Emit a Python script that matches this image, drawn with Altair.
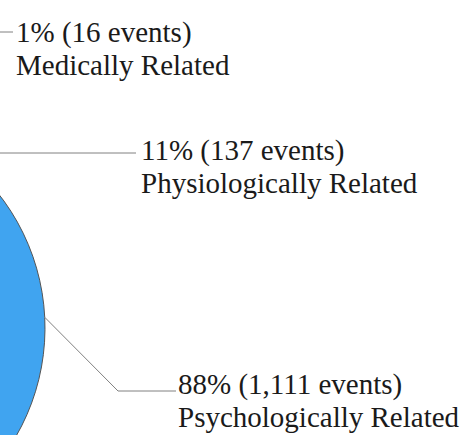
import math
import altair as alt
import pandas as pd

# Event categories and counts
categories = ["Psychologically Related", "Physiologically Related", "Medically Related"]
percents = [88, 11, 1]
events = ["1,111", "137", "16"]
counts = [1111, 137, 16]
colors = ["#40A4F0", "#F08C3C", "#A5A5A5"]

# Pie geometry (pixels) and label layout
W, H = 465, 435
CX, CY, R = -172, 328, 217
START = -1.24  # radians, clockwise from 12 o'clock

label_x = [178, 141, 16]
label_y = [394, 160, 42]
# leader lines: elbow / end points (the first one starts on the pie edge)
leader_pts = {
    "Psychologically Related": [(118, 391), (176, 391)],
    "Physiologically Related": [(-40, 153), (136, 153)],
    "Medically Related": [(-40, 32), (13, 32)],
}

total = sum(counts)
pie_df = pd.DataFrame({"category": categories, "count": counts,
                       "rank": list(range(len(categories)))})

# leader lines start at each slice's mid-angle on the rim
rows = []
cum = 0
for cat, c in zip(categories, counts):
    mid = START + (cum + c / 2) / total * 2 * math.pi
    cum += c
    sx, sy = CX + R * math.sin(mid), CY - R * math.cos(mid)
    pts = [(sx, sy)] + leader_pts[cat]
    for i, (px, py) in enumerate(pts):
        rows.append({"category": cat, "i": i, "px": px, "py": py})
leader_df = pd.DataFrame(rows)

label_df = pd.DataFrame({
    "category": categories,
    "text": [f"{p}% ({e} events)\n{c}" for p, e, c in zip(percents, events, categories)],
    "px": label_x,
    "py": label_y,
})

pie = alt.Chart(pie_df).mark_arc(
    outerRadius=R, stroke="#555555", strokeWidth=1
).encode(
    theta=alt.Theta("count:Q", stack=True,
                    scale=alt.Scale(range=[START, START + 2 * math.pi])),
    color=alt.Color("category:N", scale=alt.Scale(domain=categories, range=colors),
                    legend=None),
    order=alt.Order("rank:Q"),
    x=alt.value(CX),
    y=alt.value(CY),
)

leaders = alt.Chart(leader_df).mark_line(color="#808080", strokeWidth=1).encode(
    x=alt.X("px:Q", scale=None),
    y=alt.Y("py:Q", scale=None),
    detail="category:N",
    order="i:Q",
)

labels = alt.Chart(label_df).mark_text(
    align="left", baseline="alphabetic", lineBreak="\n", lineHeight=33,
    font="Liberation Serif", fontSize=29, color="#1a1a1a"
).encode(
    x=alt.X("px:Q", scale=None),
    y=alt.Y("py:Q", scale=None),
    text="text:N",
)

chart = alt.layer(pie, leaders, labels).properties(
    width=W, height=H, padding=0, autosize=alt.AutoSizeParams(type="none")
).configure_view(stroke=None)

chart.save("out.html", embed_options={"renderer": "svg", "actions": False})
